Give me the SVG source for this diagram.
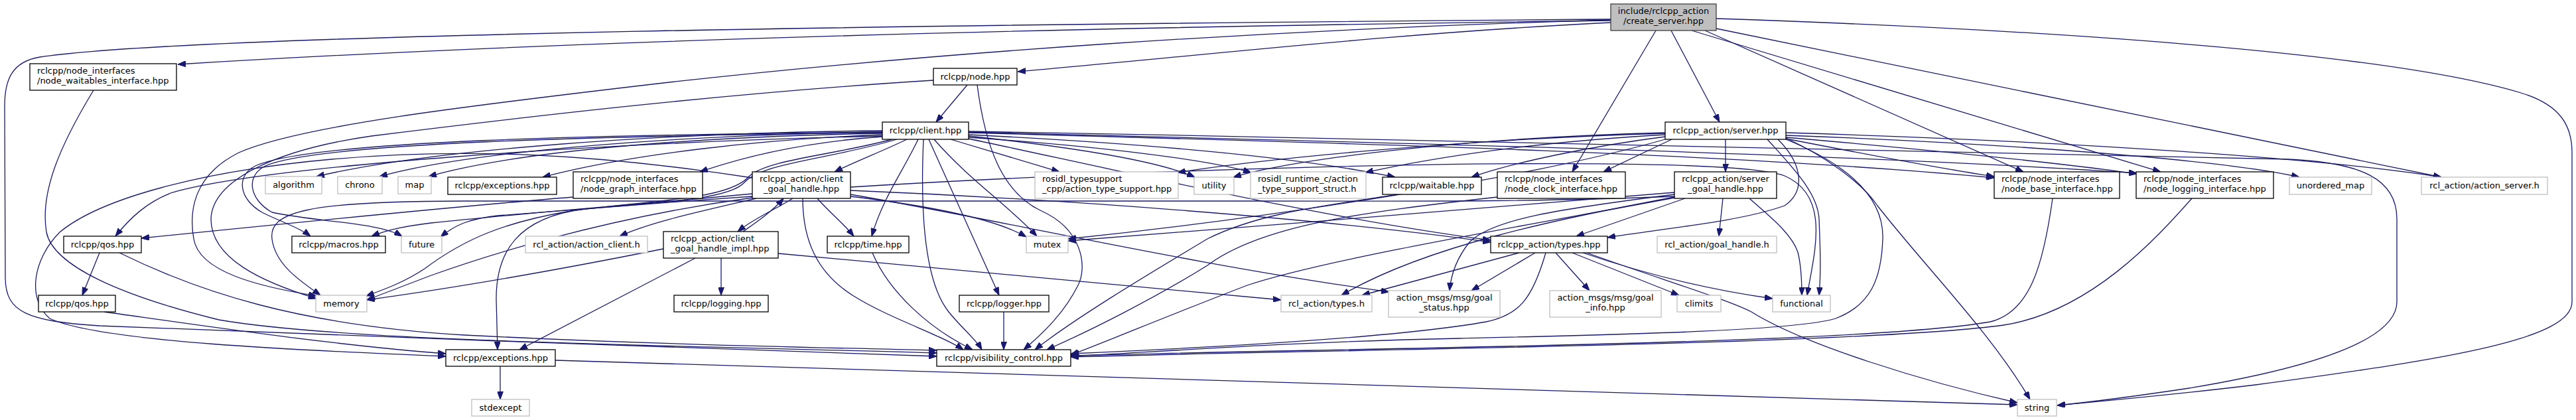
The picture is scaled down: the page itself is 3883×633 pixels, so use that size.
<svg xmlns="http://www.w3.org/2000/svg" width="3883" height="633" viewBox="0 0 3883 633">
<defs>
<marker id="ah" viewBox="0 0 12 9" refX="12" refY="4.5" markerWidth="12" markerHeight="9" markerUnits="userSpaceOnUse" orient="auto">
<path d="M0,0 L12,4.5 L0,9 z" fill="#191970" stroke="#191970" stroke-width="1"/>
</marker>
<style>
.e path{fill:none;stroke:#191970;stroke-width:1.3;marker-end:url(#ah)}
.b{fill:#fff;stroke:#000;stroke-width:1.3}
.g{fill:#fff;stroke:#bfbfbf;stroke-width:1.3}
.r{fill:#bfbfbf;stroke:#404040;stroke-width:1.3}
text{font-family:"DejaVu Sans","Liberation Sans",sans-serif;font-size:13px;fill:#000}
.c{text-anchor:middle}
</style>
</defs>
<rect x="0" y="0" width="3883" height="633" fill="#fff"/>
<g id="edges" class="e">
<path d="M2428,31 C1700,40 900,58 268,97"/>
<path d="M2428,29 C1500,36 300,50 60,86 C18,93 7,120 7,160 L8,420 C9,470 40,484 150,491 C500,506 1100,526 1412,537"/>
<path d="M2428,34 C2100,50 1800,85 1534,108"/>
<path d="M2428,30 C1900,45 1400,80 1000,125 C700,160 450,190 360,230 C290,265 285,320 292,360 C300,410 390,432 477,446"/>
<path d="M2496,46 L2370,259"/>
<path d="M2519,46 L2592,184"/>
<path d="M2570,46 L3050,259"/>
<path d="M2550,46 L3257,259"/>
<path d="M2587,43 L3680,267"/>
<path d="M2587,28 C3100,45 3600,80 3800,140 C3860,158 3877,190 3877,230 L3877,455 C3877,510 3700,540 3400,580 C3250,598 3150,606 3101,611"/>
<path d="M1458,128 L1411,184"/>
<path d="M1473,128 C1485,220 1510,290 1570,318 C1630,345 1640,400 1625,430 C1605,470 1575,500 1543,527"/>
<path d="M1407,121 C1100,140 800,175 560,205 C420,225 320,270 318,330 C318,390 395,425 477,450"/>
<path d="M141,136 C90,220 60,290 70,350 C80,400 180,445 330,482 C520,515 1000,520 1412,532"/>
<path d="M1330,197 C1000,200 650,225 477,266"/>
<path d="M1330,199 C1050,203 720,225 572,266"/>
<path d="M1330,201 C1100,205 800,222 646,266"/>
<path d="M1330,203 C1150,210 950,232 818,267"/>
<path d="M1330,206 C1200,215 1110,240 1055,259"/>
<path d="M1367,210 C1330,228 1290,243 1258,259"/>
<path d="M1433,210 L1597,259"/>
<path d="M1460,205 C1600,220 1740,240 1801,267"/>
<path d="M1460,207 C1650,220 1820,240 1886,260"/>
<path d="M1460,203 C1700,215 1950,235 2103,267"/>
<path d="M1460,200 C2000,215 2600,230 3006,268"/>
<path d="M1460,199 C2100,215 2800,232 3221,261"/>
<path d="M1345,210 C1250,235 1160,240 1130,265 C1100,300 1000,300 860,318 C760,335 700,360 640,405 C610,425 580,436 552,446"/>
<path d="M1352,210 C1250,240 1150,245 1122,275 C1100,300 1000,305 880,315 C780,328 748,380 748,450 L750,527"/>
<path d="M1330,200 C900,205 480,215 400,250 C370,265 375,300 410,320 C480,335 570,335 606,356"/>
<path d="M1330,199 C900,203 470,212 385,250 C355,265 360,300 395,320 C420,333 450,342 468,356"/>
<path d="M1384,210 C1360,260 1330,300 1314,356"/>
<path d="M1408,210 C1460,270 1520,310 1563,356"/>
<path d="M1400,210 L1506,445"/>
<path d="M1392,210 C1388,300 1390,420 1430,470 C1450,495 1470,510 1480,527"/>
<path d="M1460,209 C1700,260 2000,330 2247,362"/>
<path d="M1460,198 C2200,212 3000,225 3450,240 C3560,245 3613,270 3613,330 L3613,455 C3613,520 3450,560 3300,585 C3200,600 3140,607 3101,611"/>
<path d="M1195,299 C1170,315 1135,330 1112,349"/>
<path d="M1120,349 C1140,335 1165,318 1181,299"/>
<path d="M1140,299 C1050,320 980,335 934,356"/>
<path d="M1134,292 C1000,305 800,320 650,336 C610,341 585,346 560,356"/>
<path d="M1134,296 C1000,305 850,318 750,325 C705,330 685,340 664,357"/>
<path d="M1134,298 C900,330 720,390 650,415 C610,430 580,442 553,452"/>
<path d="M1000,375 C850,405 700,432 553,452"/>
<path d="M1232,299 C1250,320 1270,335 1287,356"/>
<path d="M1282,296 C1400,310 1500,330 1547,357"/>
<path d="M1210,299 C1210,360 1230,410 1285,445 C1340,480 1420,505 1452,527"/>
<path d="M1315,381 C1340,440 1400,495 1466,527"/>
<path d="M1282,293 C1500,330 1800,400 2094,440"/>
<path d="M1282,287 C1600,300 2000,330 2247,365"/>
<path d="M1282,282 C1800,250 2600,230 2690,265 C2760,295 2735,380 2724,445"/>
<path d="M1048,389 L783,527"/>
<path d="M1087,389 L1087,445"/>
<path d="M1173,382 L1931,452"/>
<path d="M1134,268 C900,232 700,222 500,240 C300,258 150,300 90,350 C50,390 40,450 75,480 C150,515 450,528 672,537"/>
<path d="M2601,210 L2601,259"/>
<path d="M2692,200 C3100,212 3500,238 3680,267"/>
<path d="M2692,204 C3000,215 3350,240 3466,267"/>
<path d="M2692,207 C2900,225 3100,245 3221,262"/>
<path d="M2692,209 C2800,230 2930,255 3006,266"/>
<path d="M2692,208 C2760,240 2810,280 2830,310 C2900,400 3000,500 3060,602"/>
<path d="M2520,210 L2417,259"/>
<path d="M2510,206 C2400,220 2280,245 2218,267"/>
<path d="M2510,203 C2300,215 2150,240 2058,260"/>
<path d="M2510,201 C2200,210 1900,240 1775,260"/>
<path d="M2510,200 C2200,208 1950,240 1859,267"/>
<path d="M2510,210 C2300,270 1900,330 1610,360"/>
<path d="M2524,290 C2300,310 1900,340 1610,363"/>
<path d="M2524,296 C2300,305 2100,303 1900,303 L700,303 C460,303 405,320 410,360 C415,400 455,425 483,445"/>
<path d="M2692,210 C2790,250 2840,300 2838,360 C2836,420 2820,460 2767,480 C2700,500 2400,505 2200,510 C1950,515 1750,530 1614,537"/>
<path d="M2664,210 C2700,250 2740,290 2742,330 C2744,380 2745,410 2742,445"/>
<path d="M2637,299 C2660,320 2700,350 2710,380 C2715,400 2716,420 2716,445"/>
<path d="M2597,299 L2591,356"/>
<path d="M2540,299 L2376,356"/>
<path d="M2680,210 C2720,250 2720,290 2690,310 C2620,335 2500,345 2423,358"/>
<path d="M2524,297 C2350,330 2150,370 2022,445"/>
<path d="M2524,293 C2350,315 2250,330 2215,365 C2195,390 2187,415 2185,438"/>
<path d="M2290,381 L2053,445"/>
<path d="M2314,381 L2218,438"/>
<path d="M2345,381 L2396,438"/>
<path d="M2370,381 L2531,445"/>
<path d="M2386,381 C2500,420 2600,440 2672,450"/>
<path d="M2392,381 C2500,420 2600,450 2640,470 C2720,520 2900,575 3041,607"/>
<path d="M2330,381 C2310,450 2290,475 2240,485 C2100,510 1800,525 1614,533"/>
<path d="M754,552 L754,602"/>
<path d="M837,543 L3041,610"/>
<path d="M150,381 L124,445"/>
<path d="M180,381 C300,440 450,490 700,505 C1000,520 1250,524 1412,528"/>
<path d="M157,470 C300,490 500,520 672,533"/>
<path d="M3094,299 C3080,400 3060,470 3000,485 C2800,520 2000,525 1614,536"/>
<path d="M3304,299 C3250,360 3150,470 3020,490 C2800,520 2000,527 1614,538"/>
<path d="M1513,470 L1513,527"/>
<path d="M1330,205 C900,215 400,250 260,290 C220,305 195,330 174,356"/>
<path d="M864,297 C700,310 400,340 213,359"/>
<path d="M2107,293 C2000,310 1900,320 1820,360 C1720,420 1620,480 1560,527"/>
<path d="M2257,297 C2050,320 1900,340 1820,400 C1740,450 1640,500 1578,527"/>
<path d="M2524,298 C2300,340 2000,390 1880,430 C1750,480 1680,510 1614,535"/>
</g>
<g id="n_cs"><rect class="r" x="2428" y="6" width="159" height="40"/><text class="c"><tspan x="2507.5" y="21">include/rclcpp_action</tspan><tspan x="2507.5" y="36">/create_server.hpp</tspan></text></g>
<g id="n_nw"><rect class="b" x="45" y="96" width="221" height="40"/><text><tspan x="56" y="111">rclcpp/node_interfaces</tspan><tspan x="56" y="126">/node_waitables_interface.hpp</tspan></text></g>
<g id="n_nd"><rect class="b" x="1407" y="103" width="126" height="25"/><text class="c" x="1470" y="120">rclcpp/node.hpp</text></g>
<g id="n_cl"><rect class="b" x="1330" y="184" width="130" height="26"/><text class="c" x="1395" y="201">rclcpp/client.hpp</text></g>
<g id="n_sv"><rect class="b" x="2510" y="184" width="182" height="26"/><text class="c" x="2601" y="201">rclcpp_action/server.hpp</text></g>
<g id="n_alg"><rect class="g" x="400" y="266" width="85" height="26"/><text class="c" x="442.5" y="283">algorithm</text></g>
<g id="n_chr"><rect class="g" x="509" y="266" width="67" height="26"/><text class="c" x="542.5" y="283">chrono</text></g>
<g id="n_map"><rect class="g" x="600" y="266" width="50" height="26"/><text class="c" x="625" y="283">map</text></g>
<g id="n_exu"><rect class="b" x="675" y="267" width="164" height="26"/><text class="c" x="757" y="284">rclcpp/exceptions.hpp</text></g>
<g id="n_ng"><rect class="b" x="864" y="259" width="195" height="40"/><text><tspan x="875" y="274">rclcpp/node_interfaces</tspan><tspan x="875" y="289">/node_graph_interface.hpp</tspan></text></g>
<g id="n_cgh"><rect class="b" x="1134" y="259" width="148" height="40"/><text class="c"><tspan x="1208" y="274">rclcpp_action/client</tspan><tspan x="1208" y="289">_goal_handle.hpp</tspan></text></g>
<g id="n_rts"><rect class="g" x="1560" y="259" width="216" height="40"/><text><tspan x="1571" y="274">rosidl_typesupport</tspan><tspan x="1571" y="289">_cpp/action_type_support.hpp</tspan></text></g>
<g id="n_ut"><rect class="g" x="1800" y="267" width="60" height="26"/><text class="c" x="1830" y="284">utility</text></g>
<g id="n_rrc"><rect class="g" x="1885" y="259" width="174" height="40"/><text><tspan x="1896" y="274">rosidl_runtime_c/action</tspan><tspan x="1896" y="289">_type_support_struct.h</tspan></text></g>
<g id="n_wt"><rect class="b" x="2084" y="267" width="149" height="26"/><text class="c" x="2158.5" y="284">rclcpp/waitable.hpp</text></g>
<g id="n_nc"><rect class="b" x="2257" y="259" width="193" height="40"/><text><tspan x="2268" y="274">rclcpp/node_interfaces</tspan><tspan x="2268" y="289">/node_clock_interface.hpp</tspan></text></g>
<g id="n_sgh"><rect class="b" x="2524" y="259" width="154" height="40"/><text class="c"><tspan x="2601" y="274">rclcpp_action/server</tspan><tspan x="2601" y="289">_goal_handle.hpp</tspan></text></g>
<g id="n_nb"><rect class="b" x="3006" y="259" width="189" height="40"/><text><tspan x="3017" y="274">rclcpp/node_interfaces</tspan><tspan x="3017" y="289">/node_base_interface.hpp</tspan></text></g>
<g id="n_nl"><rect class="b" x="3220" y="259" width="207" height="40"/><text><tspan x="3231" y="274">rclcpp/node_interfaces</tspan><tspan x="3231" y="289">/node_logging_interface.hpp</tspan></text></g>
<g id="n_um"><rect class="g" x="3451" y="267" width="124" height="26"/><text class="c" x="3513" y="284">unordered_map</text></g>
<g id="n_as"><rect class="g" x="3650" y="267" width="190" height="26"/><text class="c" x="3745" y="284">rcl_action/action_server.h</text></g>
<g id="n_q1"><rect class="b" x="96" y="356" width="117" height="25"/><text class="c" x="154.5" y="373">rclcpp/qos.hpp</text></g>
<g id="n_mac"><rect class="b" x="440" y="356" width="141" height="25"/><text class="c" x="510.5" y="373">rclcpp/macros.hpp</text></g>
<g id="n_fut"><rect class="g" x="605" y="356" width="61" height="25"/><text class="c" x="635.5" y="373">future</text></g>
<g id="n_ac"><rect class="g" x="792" y="356" width="184" height="25"/><text class="c" x="884" y="373">rcl_action/action_client.h</text></g>
<g id="n_cghi"><rect class="b" x="1000" y="349" width="173" height="40"/><text><tspan x="1011" y="364">rclcpp_action/client</tspan><tspan x="1011" y="379">_goal_handle_impl.hpp</tspan></text></g>
<g id="n_tm"><rect class="b" x="1247" y="356" width="123" height="25"/><text class="c" x="1308.5" y="373">rclcpp/time.hpp</text></g>
<g id="n_mtx"><rect class="g" x="1547" y="356" width="63" height="25"/><text class="c" x="1578.5" y="373">mutex</text></g>
<g id="n_ty"><rect class="b" x="2247" y="356" width="176" height="25"/><text class="c" x="2335" y="373">rclcpp_action/types.hpp</text></g>
<g id="n_gh"><rect class="g" x="2498" y="356" width="180" height="25"/><text class="c" x="2588" y="373">rcl_action/goal_handle.h</text></g>
<g id="n_q2"><rect class="b" x="58" y="445" width="116" height="25"/><text class="c" x="116" y="462">rclcpp/qos.hpp</text></g>
<g id="n_mem"><rect class="g" x="476" y="445" width="77" height="25"/><text class="c" x="514.5" y="462">memory</text></g>
<g id="n_log"><rect class="b" x="1016" y="445" width="142" height="25"/><text class="c" x="1087" y="462">rclcpp/logging.hpp</text></g>
<g id="n_lgr"><rect class="b" x="1446" y="445" width="135" height="25"/><text class="c" x="1513.5" y="462">rclcpp/logger.hpp</text></g>
<g id="n_rt"><rect class="g" x="1931" y="445" width="137" height="25"/><text class="c" x="1999.5" y="462">rcl_action/types.h</text></g>
<g id="n_gs"><rect class="g" x="2093" y="438" width="168" height="40"/><text class="c"><tspan x="2177" y="453">action_msgs/msg/goal</tspan><tspan x="2177" y="468">_status.hpp</tspan></text></g>
<g id="n_gi"><rect class="g" x="2336" y="438" width="168" height="40"/><text class="c"><tspan x="2420" y="453">action_msgs/msg/goal</tspan><tspan x="2420" y="468">_info.hpp</tspan></text></g>
<g id="n_clm"><rect class="g" x="2528" y="445" width="66" height="25"/><text class="c" x="2561" y="462">climits</text></g>
<g id="n_fn"><rect class="g" x="2672" y="445" width="87" height="25"/><text class="c" x="2715.5" y="462">functional</text></g>
<g id="n_exl"><rect class="b" x="672" y="527" width="165" height="25"/><text class="c" x="754.5" y="544">rclcpp/exceptions.hpp</text></g>
<g id="n_vc"><rect class="b" x="1412" y="527" width="202" height="25"/><text class="c" x="1513" y="544">rclcpp/visibility_control.hpp</text></g>
<g id="n_sx"><rect class="g" x="711" y="602" width="87" height="25"/><text class="c" x="754.5" y="619">stdexcept</text></g>
<g id="n_str"><rect class="g" x="3041" y="602" width="59" height="25"/><text class="c" x="3070.5" y="619">string</text></g>
</svg>
